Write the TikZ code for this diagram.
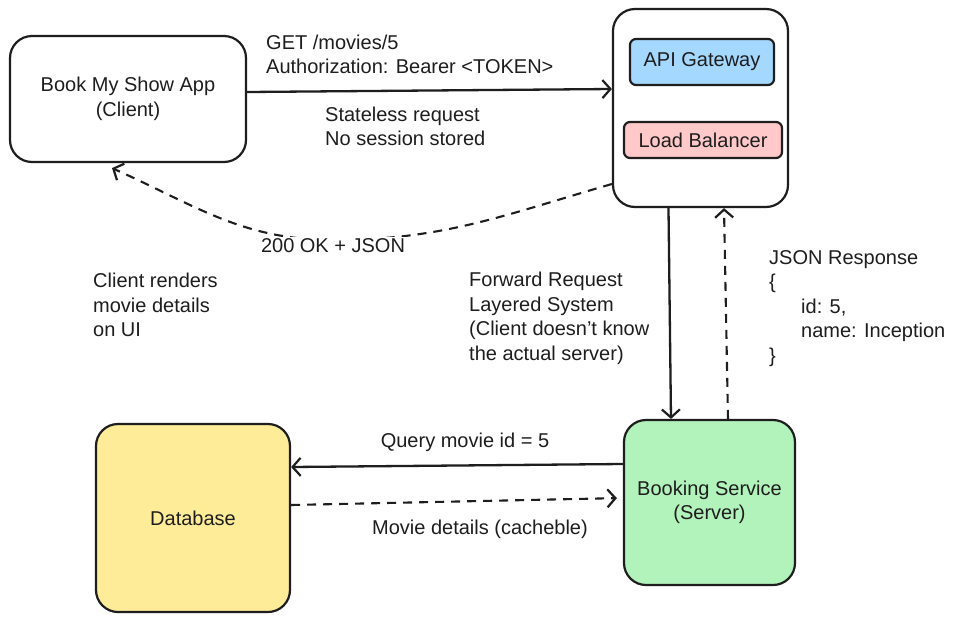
\documentclass[tikz,border=0pt]{standalone}
\usepackage{fontspec}
\setmainfont{Liberation Sans}
\usetikzlibrary{arrows.meta}
\definecolor{ink}{HTML}{1E1E1E}
\definecolor{cblue}{HTML}{A5D8FF}
\definecolor{cpink}{HTML}{FFC9C9}
\definecolor{cgreen}{HTML}{B2F2BB}
\definecolor{cyellow}{HTML}{FFEC99}
\begin{document}
\begin{tikzpicture}[x=1pt,y=-1pt,
  every node/.style={font=\fontsize{20}{24.5}\selectfont, text=ink},
  box/.style={draw=ink, line width=2.2pt, rounded corners=22pt, align=center, inner sep=0pt},
  smallbox/.style={draw=ink, line width=2.2pt, rounded corners=6pt, align=center, inner sep=0pt},
  lbl/.style={align=left, inner sep=0pt},
  conn/.style={draw=ink, line width=2.3pt, -{Straight Barb[length=8pt,width=18pt,line width=2.2pt]}},
  dconn/.style={conn, line width=2.1pt, dash pattern=on 9pt off 7pt}
]
\useasboundingbox (0,0) rectangle (962,622);
\fill[white] (0,0) rectangle (962,622);

% boxes
\node[box, minimum width=236pt, minimum height=126pt] (client) at (128,99) {Book My Show App\\(Client)};
\node[box, minimum width=175pt, minimum height=198pt] (lbc) at (700.5,108) {};
\node[smallbox, fill=cblue, minimum width=144pt, minimum height=46pt] (api) at (702,62) {API Gateway};
\node[smallbox, fill=cpink, minimum width=158pt, minimum height=36pt] (lb) at (703,140) {Load Balancer};
\node[box, fill=cgreen, minimum width=171pt, minimum height=165pt] (booking) at (709.5,502.5) {Booking Service\\(Server)};
\node[box, fill=cyellow, minimum width=194pt, minimum height=188pt] (db) at (193,518) {Database};

% labels
\node[lbl, anchor=west] (getl) at (266,54.5) {GET /movies/5\\Authorization: Bearer <TOKEN>};
\node[lbl, anchor=west] (statel) at (325,126.5) {Stateless request\\No session stored};
\node[lbl, anchor=west] (rendl) at (93,305) {Client renders\\movie details\\on UI};
\node[lbl, anchor=west] (fwdl) at (469,318.5) {Forward Request\\Layered System\\(Client doesn't know\\the actual server)};
\node[lbl, anchor=west] (jsonl) at (769,308.5) {JSON Response\\\{\\\hspace*{32pt}id: 5,\\\hspace*{32pt}name: Inception\\\}};

% connectors
\draw[conn] ([yshift=7pt]client.east) -- ([yshift=19pt]lbc.west);
\coordinate (okc) at (333,240);
\draw[dconn] ([yshift=-76pt]lbc.west) to[out=196,in=0] (okc) to[out=180,in=-24] ([xshift=-16pt,yshift=-5pt]client.south);
\node[fill=white, inner sep=2pt] (okl) at (333,246) {200 OK + JSON};

\draw[conn] ([xshift=-32pt]lbc.south) -- ([xshift=-38.5pt]booking.north);
\draw[dconn] ([xshift=18.5pt]booking.north) -- ([xshift=23.5pt]lbc.south);

\draw[conn] ([yshift=38.5pt]booking.west) -- ([yshift=51pt]db.east);
\node (ql) at (465,442) {Query movie id = 5};
\draw[dconn, shorten >=6pt] ([yshift=13pt]db.east) -- ([yshift=4.5pt]booking.west);
\node (ml) at (480,529) {Movie details (cacheble)};
\end{tikzpicture}
\end{document}
